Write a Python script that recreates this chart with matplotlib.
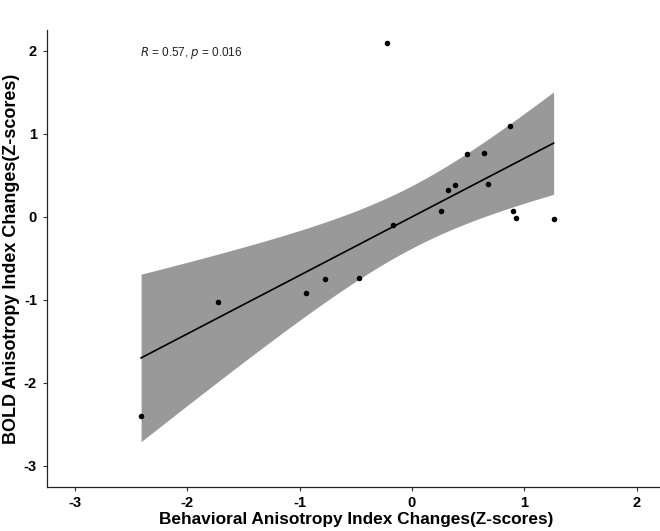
"""
Scatter of BOLD vs behavioural anisotropy index changes with a linear fit
and 95% confidence band.
"""

import matplotlib as mpl
mpl.use("Agg")
import matplotlib.pyplot as plt
import numpy as np

mpl.rcParams.update({
    "font.family": ["Liberation Sans", "DejaVu Sans"],
})

# ── data ──────────────────────────────────────────────────────────────────────
behav_z = [-2.41, -1.73, -0.94, -0.77, -0.47, -0.22, -0.17, 0.26, 0.32,
           0.38, 0.49, 0.64, 0.68, 0.875, 0.895, 0.925, 1.26]
bold_z = [-2.40, -1.02, -0.92, -0.75, -0.73, 2.09, -0.10, 0.07, 0.33,
          0.39, 0.76, 0.77, 0.40, 1.10, 0.07, -0.01, -0.02]
ticks = [-3, -2, -1, 0, 1, 2]
stat_label = r"$R$ = 0.57, $p$ = 0.016"
T_975_DF15 = 2.131  # t quantile for the 95% band, n - 2 = 15

x = np.array(behav_z)
y = np.array(bold_z)
n = len(x)
slope, intercept = np.polyfit(x, y, 1)
resid = y - (slope * x + intercept)
s_err = np.sqrt(np.sum(resid ** 2) / (n - 2))
grid = np.linspace(x.min(), x.max(), 200)
fit = slope * grid + intercept
half = T_975_DF15 * s_err * np.sqrt(1.0 / n + (grid - x.mean()) ** 2 / np.sum((x - x.mean()) ** 2))

fig = plt.figure(figsize=(6.6, 5.31), dpi=100)
ax = fig.add_axes([0.0707, 0.0834, 0.9367, 0.8597])

ax.fill_between(grid, fit - half, fit + half, color="#999999", linewidth=0, zorder=1)
ax.plot(grid, fit, color="black", linewidth=1.2, zorder=2)
ax.scatter(x, y, s=16, color="black", zorder=3, linewidths=0)

ax.text(-2.42, 1.97, stat_label, fontsize=8.5, ha="left", va="center", color="#222222")

ax.set_xlim(-3.25, 2.25)
ax.set_ylim(-3.25, 2.25)
ax.set_xticks(ticks)
ax.set_yticks(ticks)
ax.set_xticklabels([str(t) for t in ticks], fontsize=10.5, fontweight="bold")
ax.set_yticklabels([str(t) for t in ticks], fontsize=10.5, fontweight="bold")
ax.tick_params(direction="out", length=3, width=0.8, color="#333333", pad=4)

ax.set_xlabel("Behavioral Anisotropy Index Changes(Z-scores)", fontsize=12.4,
              fontweight="bold", labelpad=1)
ax.set_ylabel("BOLD Anisotropy Index Changes(Z-scores)", fontsize=13,
              fontweight="bold", labelpad=3)

for spine in ("top", "right"):
    ax.spines[spine].set_visible(False)
for spine in ("left", "bottom"):
    ax.spines[spine].set_linewidth(0.9)
    ax.spines[spine].set_color("#222222")

fig.savefig("out.png", dpi=100)
